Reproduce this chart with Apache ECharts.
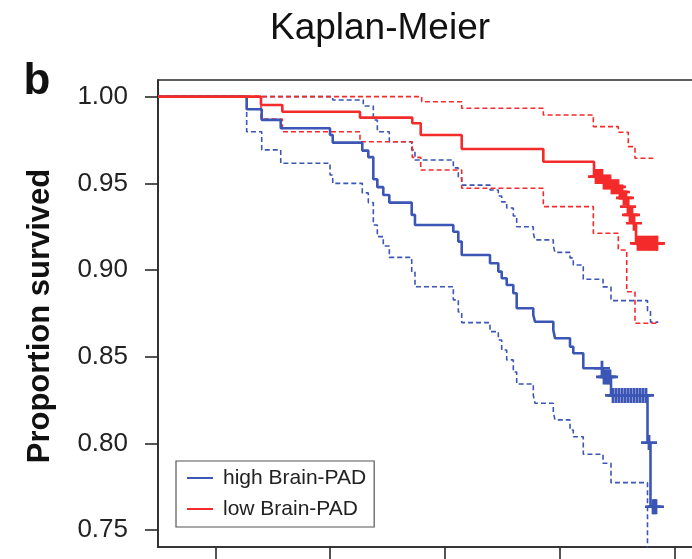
<!DOCTYPE html>
<html><head><meta charset="utf-8">
<script src="https://cdn.jsdelivr.net/npm/echarts@6/dist/echarts.min.js"></script>
<style>html,body{margin:0;padding:0;background:#fff}#c{width:692px;height:559px}</style>
</head><body><div id="c"></div>
<script>
// ---- Data (time axis in years, survival proportion) ----
const xTicks = [74, 76, 78, 80, 82];
const yTicks = [0.75, 0.80, 0.85, 0.90, 0.95, 1.00];
const seriesNames = ['high Brain-PAD', 'low Brain-PAD'];

const highSurv = [[73,1],[74.545,0.9927],[74.807,0.9866],[75.138,0.9818],[75.997,0.9779],[76.044,0.9735],[76.559,0.9689],[76.664,0.9651],[76.751,0.9524],[76.821,0.9478],[76.925,0.9433],[77.030,0.9389],[77.420,0.9318],[77.477,0.926],[78.145,0.9221],[78.232,0.9164],[78.291,0.9087],[78.784,0.9039],[78.929,0.8991],[78.988,0.8953],[79.075,0.8914],[79.190,0.8866],[79.249,0.878],[79.538,0.8741],[79.568,0.8702],[79.887,0.8655],[79.916,0.8607],[80.178,0.8558],[80.235,0.852],[80.409,0.8434],[80.753,0.8384],[80.892,0.8277],[81.528,0.8005],[81.580,0.7635],[81.693,0.7635]];
const highUpper = [[73,1],[76.044,0.9981],[76.577,0.9946],[76.751,0.9865],[76.821,0.9798],[77.030,0.974],[77.420,0.9693],[77.477,0.9635],[78.145,0.9589],[78.232,0.9531],[78.291,0.949],[78.784,0.9462],[78.929,0.9427],[78.988,0.9393],[79.075,0.9358],[79.190,0.9312],[79.249,0.925],[79.538,0.9214],[79.568,0.9174],[79.887,0.9139],[79.916,0.9102],[80.178,0.907],[80.235,0.9029],[80.409,0.8947],[80.753,0.8903],[80.892,0.8824],[81.528,0.8764],[81.580,0.870],[81.716,0.870]];
const highLower = [[73,1],[74.545,0.9798],[74.807,0.9693],[75.138,0.9616],[75.997,0.9548],[76.044,0.95],[76.559,0.9445],[76.664,0.9389],[76.751,0.926],[76.821,0.9193],[76.925,0.9139],[77.030,0.9073],[77.420,0.8989],[77.477,0.8904],[78.145,0.8828],[78.232,0.8758],[78.291,0.8697],[78.784,0.8645],[78.929,0.8597],[78.988,0.8539],[79.075,0.8482],[79.190,0.8412],[79.249,0.8343],[79.538,0.8279],[79.568,0.8232],[79.887,0.8182],[79.916,0.8136],[80.178,0.8078],[80.235,0.8039],[80.409,0.7938],[80.753,0.7886],[80.892,0.7774],[81.528,0.70],[81.693,0.70]];
const highCensor = [80.735,80.770,80.805,80.840,80.875,80.927,80.979,81.031,81.084,81.136,81.188,81.240,81.293,81.345,81.397,81.449,81.502,81.554,81.624,81.650,81.676];

const lowSurv = [[73,1],[74.794,0.9952],[75.166,0.9913],[76.519,0.9879],[77.430,0.9847],[77.577,0.9779],[78.291,0.9698],[79.713,0.9625],[80.596,0.9539],[80.770,0.9508],[80.909,0.948],[81.049,0.945],[81.118,0.9416],[81.188,0.9366],[81.223,0.9318],[81.275,0.927],[81.328,0.9154],[81.746,0.9154]];
const lowUpper = [[73,1],[77.594,0.9971],[78.291,0.9933],[79.713,0.9894],[80.584,0.9827],[81.019,0.9795],[81.193,0.9712],[81.310,0.9645],[81.629,0.9645]];
const lowLower = [[73,1],[74.794,0.9871],[75.166,0.9798],[76.519,0.974],[77.430,0.965],[77.577,0.9577],[78.291,0.9472],[79.713,0.9366],[80.584,0.9212],[81.019,0.9116],[81.166,0.8875],[81.310,0.8693],[81.688,0.8693]];
const lowCensor = [80.631,80.666,80.700,80.735,80.770,80.805,80.840,80.875,80.909,80.944,80.979,81.014,81.049,81.084,81.118,81.153,81.188,81.223,81.258,81.293,81.362,81.397,81.432,81.467,81.502,81.537,81.571,81.606,81.641,81.676,81.693];

// ---- Styling ----
const BLUE = '#3b56b5';
const RED = '#f42b2b';
const FONT = '"Liberation Sans", Arial, Helvetica, sans-serif';
const PLUS = 'path://M6.6,0H9.4V6.6H16V9.4H9.4V16H6.6V9.4H0V6.6H6.6Z';

function survAt(curve, t) {
  let v = curve[0][1];
  for (const p of curve) { if (p[0] <= t) v = p[1]; else break; }
  return v;
}
function stepLine(name, data, color, dashed, z) {
  return {
    name: name, type: 'line', step: 'end', data: data, symbol: 'none', showSymbol: false,
    lineStyle: { color: color, width: dashed ? 1.6 : 2.6, type: dashed ? [5, 3] : 'solid' },
    itemStyle: { color: color }, z: z, silent: true, clip: true
  };
}
function censorSeries(name, times, curve, color) {
  return {
    name: name, type: 'scatter', symbol: PLUS, symbolSize: [16, 15],
    data: times.map(t => [t, survAt(curve, t)]),
    itemStyle: { color: color, opacity: 1 }, z: 5, silent: true
  };
}

const chart = echarts.init(document.getElementById('c'), null, { renderer: 'canvas' });
chart.setOption({
  animation: false,
  backgroundColor: '#fff',
  grid: { left: 158, top: 80, right: -40, bottom: 12, outerBoundsMode: 'none', containLabel: false, show: true, borderColor: '#2a2a2a', borderWidth: 1.6, backgroundColor: 'transparent' },
  xAxis: {
    type: 'value', min: 73, max: 83,
    axisLine: { show: true, onZero: false, lineStyle: { color: '#2a2a2a', width: 1.6 } },
    axisTick: { show: true, inside: false, length: 14, customValues: xTicks, lineStyle: { color: '#2a2a2a', width: 1.6 } },
    axisLabel: { show: false, customValues: xTicks },
    splitLine: { show: false }
  },
  yAxis: {
    type: 'value', min: 0.7403, max: 1.0096,
    axisLine: { show: true, onZero: false, lineStyle: { color: '#2a2a2a', width: 1.6 } },
    axisTick: { show: true, inside: false, length: 13, customValues: yTicks, lineStyle: { color: '#2a2a2a', width: 1.6 } },
    axisLabel: { show: true, customValues: yTicks, margin: 30, fontSize: 26, color: '#222', fontFamily: FONT, formatter: v => v.toFixed(2) },
    splitLine: { show: false }
  },
  legend: {
    data: seriesNames, orient: 'vertical', left: 176, top: 461,
    padding: [6, 8, 7, 11], itemGap: 9,
    borderColor: '#555', borderWidth: 1.2, backgroundColor: '#fff',
    itemWidth: 26, itemHeight: 14, icon: 'path://M0,6H26V8H0Z',
    textStyle: { fontSize: 21, color: '#222', fontFamily: FONT, lineHeight: 22, padding: [0, 0, 0, 5] }
  },
  graphic: [
    { type: 'text', x: 380, y: 29, style: { text: 'Kaplan-Meier', font: '37px ' + FONT, fill: '#111', textAlign: 'center', textVerticalAlign: 'middle' } },
    { type: 'text', x: 37, y: 82, style: { text: 'b', font: 'bold 44px ' + FONT, fill: '#111', textAlign: 'center', textVerticalAlign: 'middle' } },
    { type: 'text', x: 40, y: 316, rotation: Math.PI / 2, style: { text: 'Proportion survived', font: 'bold 31px ' + FONT, fill: '#111', textAlign: 'center', textVerticalAlign: 'middle' } }
  ],
  series: [
    stepLine('high Brain-PAD upper', highUpper, BLUE, true, 2),
    stepLine('high Brain-PAD lower', highLower, BLUE, true, 2),
    stepLine('low Brain-PAD upper', lowUpper, RED, true, 2),
    stepLine('low Brain-PAD lower', lowLower, RED, true, 2),
    stepLine('high Brain-PAD', highSurv, BLUE, false, 3),
    stepLine('low Brain-PAD', lowSurv, RED, false, 3),
    censorSeries('high Brain-PAD censor', highCensor, highSurv, BLUE),
    censorSeries('low Brain-PAD censor', lowCensor, lowSurv, RED)
  ]
});
</script></body></html>
